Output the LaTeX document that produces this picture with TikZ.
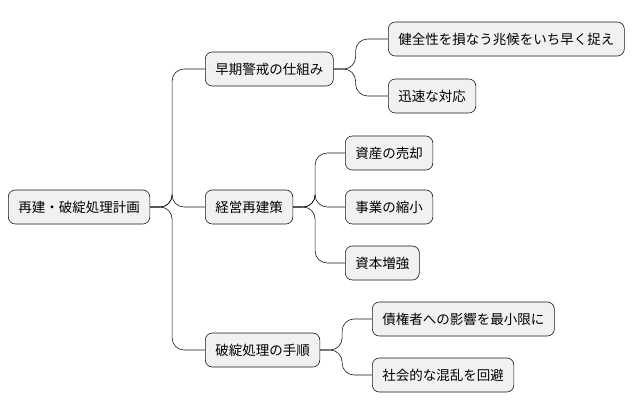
\documentclass[tikz,border=0pt]{standalone}
\usepackage{fontspec}
\setmainfont{Noto Sans CJK JP}
\usetikzlibrary{positioning}
\definecolor{mmfill}{HTML}{F1F1F1}
\definecolor{mmline}{HTML}{181818}

\begin{document}
\begin{tikzpicture}[
    x=1pt, y=-1pt,
    topic/.style={rectangle, rounded corners=7pt, fill=mmfill, draw=mmline,
                  line width=0.6pt, minimum height=34pt, inner xsep=10pt,
                  anchor=west, font=\fontsize{13.5}{15}\selectfont},
    branch/.style={mmline, line width=0.6pt, rounded corners=12pt}
  ]

  % ---- Page frame ----
  \useasboundingbox (0,0) rectangle (642,415);

  % ---- Root ----
  \node[topic] (plan) at (8,207) {再建・破綻処理計画};

  % ---- First level ----
  \node[topic] (early)  at (205,69)  {早期警戒の仕組み};
  \node[topic] (rebuild) at (205,207) {経営再建策};
  \node[topic] (resolve) at (205,350) {破綻処理の手順};

  % ---- Second level ----
  \node[topic] (signs)  at (388,39)  {健全性を損なう兆候をいち早く捉え};
  \node[topic] (quick)  at (388,96)  {迅速な対応};
  \node[topic] (sale)   at (345,153) {資産の売却};
  \node[topic] (shrink) at (345,207) {事業の縮小};
  \node[topic] (capital) at (345,263) {資本増強};
  \node[topic] (credit) at (372,319) {債権者への影響を最小限に};
  \node[topic] (social) at (372,375) {社会的な混乱を回避};

  % ---- Connectors ----
  \foreach \b in {early,rebuild,resolve}{
    \draw[branch] (plan.east) -- ++(22,0) |- (\b.west);
  }
  \foreach \b in {signs,quick}{
    \draw[branch] (early.east) -- ++(22,0) |- (\b.west);
  }
  \foreach \b in {sale,shrink,capital}{
    \draw[branch] (rebuild.east) -- ++(22,0) |- (\b.west);
  }
  \foreach \b in {credit,social}{
    \draw[branch] (resolve.east) -- ++(22,0) |- (\b.west);
  }

\end{tikzpicture}
\end{document}
